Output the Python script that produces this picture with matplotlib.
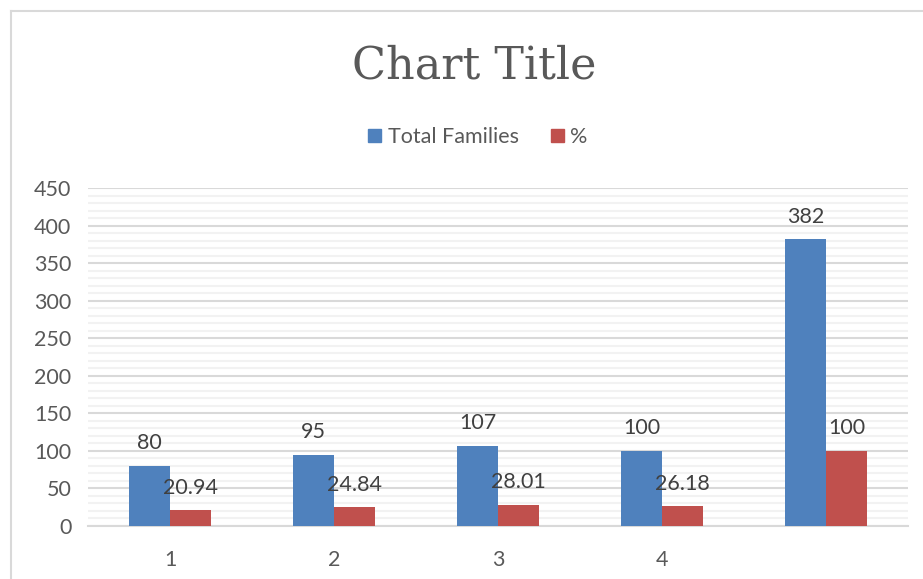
import matplotlib.pyplot as plt
import numpy as np
from matplotlib.lines import Line2D
from matplotlib.patches import Rectangle

# Datos
categorias = ['1', '2', '3', '4', '']
total_familias = [80, 95, 107, 100, 382]
porcentaje = [20.94, 24.84, 28.01, 26.18, 100]
etiquetas_pct = ['20.94', '24.84', '28.01', '26.18', '100']

azul = '#4F81BD'
rojo = '#C0504D'
gris_txt = '#595959'

plt.rcParams['font.family'] = ['Lato', 'DejaVu Sans']
tam = 15.5

fig = plt.figure(figsize=(9.23, 5.79), dpi=100)
ax = fig.add_axes([88 / 923, 53 / 579, 820 / 923, 338 / 579])

x = np.arange(len(categorias))
w = 0.25
ax.bar(x - w / 2, total_familias, w, color=azul, zorder=3)
ax.bar(x + w / 2, porcentaje, w, color=rojo, zorder=3)

# Etiquetas de datos
for xi, v in zip(x, total_familias):
    ax.annotate(str(v), (xi - w / 2, v), xytext=(0, 9), textcoords='offset points',
                ha='center', va='bottom', fontsize=tam, color='#404040', zorder=4)
for xi, v, t in zip(x, porcentaje, etiquetas_pct):
    ax.annotate(t, (xi + w / 2, v), xytext=(0, 9), textcoords='offset points',
                ha='center', va='bottom', fontsize=tam, color='#404040', zorder=4)

ax.set_xlim(-0.5, len(categorias) - 0.5)
ax.set_ylim(0, 450)
ax.set_yticks(np.arange(0, 451, 50))
ax.set_yticks(np.arange(0, 451, 10), minor=True)
ax.set_xticks(x)
ax.set_xticklabels(categorias)
ax.tick_params(axis='both', which='both', length=0, labelsize=tam, labelcolor=gris_txt)
ax.tick_params(axis='y', pad=12)
ax.tick_params(axis='x', pad=17)
ax.grid(axis='y', which='minor', color='#F2F2F2', linewidth=1.5, zorder=1)
ax.grid(axis='y', which='major', color='#D9D9D9', linewidth=1.5, zorder=2)
ax.grid(axis='x', visible=False)
for s in ['left', 'right', 'top']:
    ax.spines[s].set_visible(False)
ax.spines['bottom'].set_color('#D9D9D9')
ax.spines['bottom'].set_linewidth(1.5)

# Título
fig.text(474 / 923, 1 - 66 / 579, 'Chart Title', ha='center', va='center',
         fontsize=32, color=gris_txt, family='DejaVu Serif')

# Leyenda
ley = fig.legend([Rectangle((0, 0), 1, 1, color=azul), Rectangle((0, 0), 1, 1, color=rojo)],
                 ['Total Families', '%'], loc='center', bbox_to_anchor=(478 / 923, 1 - 137 / 579),
                 ncol=2, frameon=False, fontsize=tam, handlelength=0.6, handleheight=0.6,
                 handletextpad=0.3, columnspacing=1.5)
for t in ley.get_texts():
    t.set_color(gris_txt)

# Borde del área del gráfico
fig.add_artist(Line2D([11 / 923, 11 / 923], [0, 1 - 11 / 579], color='#D9D9D9', linewidth=1.5))
fig.add_artist(Line2D([11 / 923, 1], [1 - 11 / 579, 1 - 11 / 579], color='#D9D9D9', linewidth=1.5))

plt.savefig('out.png', dpi=100)
